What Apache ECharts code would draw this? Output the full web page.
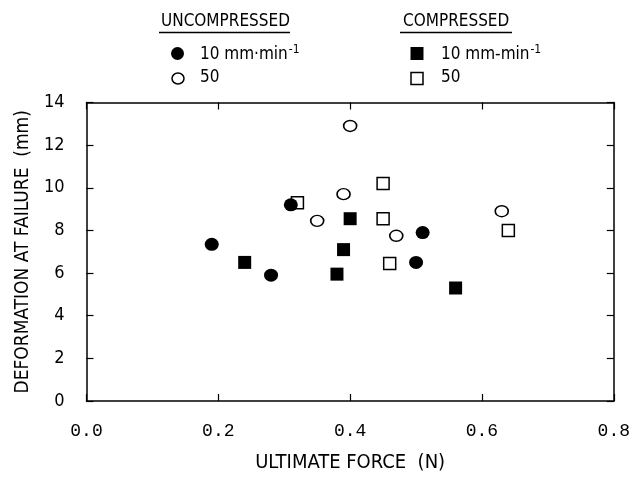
<!DOCTYPE html>
<html>
<head>
<meta charset="utf-8">
<script src="https://cdn.jsdelivr.net/npm/echarts@6/dist/echarts.min.js"></script>
<style>
  html, body { margin: 0; padding: 0; background: #fff; }
  #chart { width: 633px; height: 478px; }
</style>
</head>
<body>
<div id="chart"></div>
<script>
    // values: [ultimate force (N), deformation (mm)]
    const uncompressed10 = [[0.19, 7.35], [0.28, 5.9], [0.31, 9.2], [0.50, 6.5], [0.51, 7.9]];
    const uncompressed50 = [[0.35, 8.45], [0.39, 9.7], [0.40, 12.9], [0.47, 7.75], [0.63, 8.9]];
    const compressed10 = [[0.24, 6.5], [0.38, 5.95], [0.39, 7.1], [0.40, 8.55], [0.56, 5.3]];
    const compressed50 = [[0.32, 9.3], [0.45, 10.2], [0.45, 8.55], [0.46, 6.45], [0.64, 8.0]];

    const xTicks = ['0.0', '0.2', '0.4', '0.6', '0.8'];
    const yTicks = [0, 2, 4, 6, 8, 10, 12, 14];

    const narrow = "'Liberation Sans Narrow', 'DejaVu Sans Condensed', sans-serif";
    const mono = "'Liberation Mono', 'DejaVu Sans Mono', monospace";

    let myChart = echarts.init(document.getElementById('chart'));

    // fresh objects for every axis
    function axisLine() {
        return { show: true, onZero: false, lineStyle: { color: '#000', width: 1.5 } };
    }
    function axisTick() {
        return { show: true, inside: true, length: 7, lineStyle: { color: '#000', width: 1.2 } };
    }

    let legendText = function (x, y, text) {
        return {
            type: 'text', left: x, top: y,
            style: {
                text: text,
                font: '17px ' + narrow,
                fill: '#000',
                rich: {
                    sup: { fontSize: 12, fontFamily: narrow, fill: '#000', padding: [0, 0, 10, 1] }
                }
            }
        };
    };

    let option = {
        animation: false,
        grid: { left: 86.5, right: 19, top: 102.5, bottom: 74.5 },
        xAxis: [
            {
                type: 'value', min: 0, max: 0.8, interval: 0.2,
                name: 'ULTIMATE FORCE  (N)', nameLocation: 'middle', nameGap: 52,
                nameTextStyle: { color: '#000', fontSize: 20, fontFamily: narrow },
                axisLine: axisLine(), axisTick: axisTick(), splitLine: { show: false },
                axisLabel: {
                    margin: 21, color: '#000', fontSize: 18, fontFamily: mono,
                    formatter: function (v) { return xTicks[Math.round(v / 0.2)]; }
                }
            },
            {
                type: 'value', min: 0, max: 0.8, interval: 0.2, position: 'top',
                axisLine: axisLine(), axisTick: axisTick(), axisLabel: { show: false }, splitLine: { show: false }
            }
        ],
        yAxis: [
            {
                type: 'value', min: 0, max: 14, interval: 2, position: 'left',
                name: 'DEFORMATION AT FAILURE  (mm)', nameLocation: 'middle', nameGap: 46,
                nameTextStyle: { color: '#000', fontSize: 19, fontFamily: narrow },
                axisLine: axisLine(), axisTick: axisTick(), splitLine: { show: false },
                axisLabel: {
                    margin: 22, color: '#000', fontSize: 18, fontFamily: narrow,
                    formatter: function (v) { return yTicks.indexOf(v) >= 0 ? String(v) : ''; }
                }
            },
            {
                type: 'value', min: 0, max: 14, interval: 2, position: 'right',
                axisLine: axisLine(), axisTick: axisTick(), axisLabel: { show: false }, splitLine: { show: false }
            }
        ],
        graphic: [
            { type: 'text', left: 161, top: 13, style: { text: 'UNCOMPRESSED', font: '17px ' + narrow, fill: '#000' } },
            { type: 'line', shape: { x1: 159, y1: 32.5, x2: 290, y2: 32.5 }, style: { stroke: '#000', lineWidth: 1.5 } },
            { type: 'text', left: 403, top: 13, style: { text: 'COMPRESSED', font: '17px ' + narrow, fill: '#000' } },
            { type: 'line', shape: { x1: 400, y1: 32.5, x2: 512, y2: 32.5 }, style: { stroke: '#000', lineWidth: 1.5 } },

            { type: 'circle', shape: { cx: 177.5, cy: 53.5, r: 6.5 }, style: { fill: '#000' } },
            { type: 'ellipse', shape: { cx: 178, cy: 78.5, rx: 6, ry: 5.5 }, style: { fill: '#fff', stroke: '#000', lineWidth: 1.5 } },
            legendText(200, 44, '10 mm·min{sup|-1}'),
            legendText(200, 69, '50'),

            { type: 'rect', shape: { x: 410.5, y: 47, width: 13, height: 13 }, style: { fill: '#000' } },
            { type: 'rect', shape: { x: 411, y: 72.5, width: 12, height: 12 }, style: { fill: '#fff', stroke: '#000', lineWidth: 1.5 } },
            legendText(441, 44, '10 mm-min{sup|-1}'),
            legendText(441, 69, '50')
        ],
        series: [
            {
                name: 'Uncompressed 10', type: 'scatter', symbol: 'circle', symbolSize: [14, 13], z: 4,
                itemStyle: { color: '#000', opacity: 1 },
                data: uncompressed10
            },
            {
                name: 'Uncompressed 50', type: 'scatter', symbol: 'circle', symbolSize: [13, 11], z: 3,
                itemStyle: { color: '#fff', borderColor: '#000', borderWidth: 1.5, opacity: 1 },
                data: uncompressed50
            },
            {
                name: 'Compressed 10', type: 'scatter', symbol: 'rect', symbolSize: 13, z: 3,
                itemStyle: { color: '#000', opacity: 1 },
                data: compressed10
            },
            {
                name: 'Compressed 50', type: 'scatter', symbol: 'rect', symbolSize: 12, z: 2,
                itemStyle: { color: '#fff', borderColor: '#000', borderWidth: 1.5, opacity: 1 },
                data: compressed50
            }
        ]
    };

    myChart.setOption(option);
</script>
</body>
</html>
